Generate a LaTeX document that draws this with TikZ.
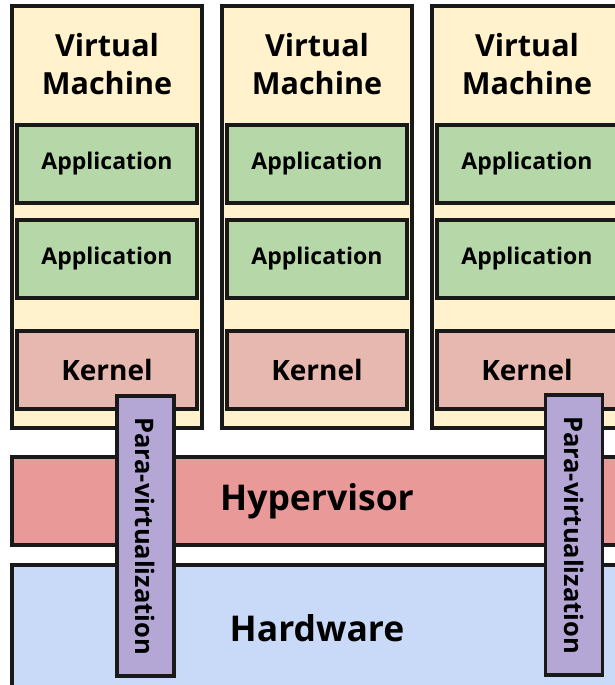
\documentclass[tikz,border=0pt]{standalone}
\usepackage{fontspec}
\setmainfont{Open Sans}
\usetikzlibrary{positioning}
\definecolor{vmfill}{HTML}{FFF2CC}
\definecolor{appfill}{HTML}{B6D7A8}
\definecolor{kernfill}{HTML}{E6B8AF}
\definecolor{hypfill}{HTML}{EA9999}
\definecolor{hwfill}{HTML}{C9DAF8}
\definecolor{parafill}{HTML}{B4A7D6}
\tikzset{
box/.style={draw=black!90, line width=3.5pt, rectangle, inner sep=0pt, outer sep=0pt}, % every block of the stack
vm/.style={box, fill=vmfill, minimum width=190pt, minimum height=422pt},
vmtitle/.style={align=center, font=\bfseries\fontsize{30.5}{38}\selectfont},
app/.style={box, fill=appfill, minimum width=180pt, minimum height=78pt, font=\bfseries\fontsize{23}{26}\selectfont},
kern/.style={box, fill=kernfill, minimum width=180pt, minimum height=78pt, font=\bfseries\fontsize{28}{32}\selectfont},
layer/.style={box, minimum width=610pt, font=\bfseries\fontsize{35.5}{40}\selectfont}, % hypervisor and hardware
para/.style={box, fill=parafill, rotate=-90, minimum width=280pt, minimum height=57pt, font=\bfseries\fontsize{25.5}{28}\selectfont},
}
\begin{document}
\begin{tikzpicture}[x=1pt, y=-1pt]
\useasboundingbox (0,0) rectangle (615,685);
% the three guests
\node[vm] (vm1) at (107,217) {};
\node[vm, right=20pt of vm1] (vm2) {};
\node[vm, right=20pt of vm2] (vm3) {};
\foreach \i in {1,2,3}{
    \node[vmtitle, below=24pt of vm\i.north, anchor=north] (title\i) {Virtual\\Machine};
    \node[app, below=119pt of vm\i.north, anchor=north] (appa\i) {Application};
    \node[app, below=17pt of appa\i] (appb\i) {Application};
    \node[kern, below=33pt of appb\i] (kern\i) {Kernel};
}
% host layers
\node[layer, fill=hypfill, minimum height=88pt, below=29pt of vm2] (hyp) {Hypervisor};
\node[layer, fill=hwfill, minimum height=126pt, below=20pt of hyp] (hw) {Hardware};
% para-virtualization bars
\node[para] (para1) at (145.5,536) {Para-virtualization};
\node[para] (para2) at (574,535) {Para-virtualization};
\end{tikzpicture}
\end{document}
